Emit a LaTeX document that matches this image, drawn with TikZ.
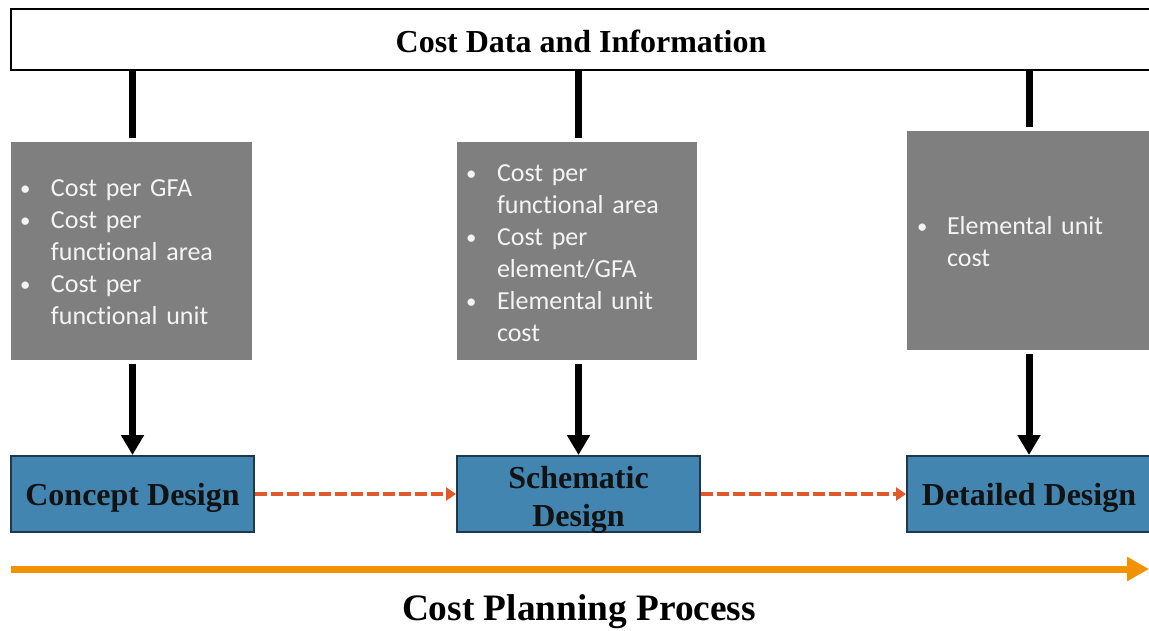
\documentclass[tikz,border=0pt]{standalone}
\usepackage{fontspec}
\usepackage{graphicx}
\setmainfont{Liberation Serif}
\newfontfamily\bodyfont{Carlito}[Ligatures=NoCommon]
\usetikzlibrary{arrows.meta,shadows,backgrounds}
\definecolor{boxgray}{HTML}{7F7F7F}
\definecolor{stageblue}{HTML}{4285B0}
\definecolor{stageedge}{HTML}{1C3A4C}
\definecolor{flowred}{HTML}{E2572C}
\definecolor{timeorange}{HTML}{F39200}
\definecolor{bullettext}{HTML}{F4F4F4}
% lower the text inside a box without changing the box's reported size
\newcommand\lowered[2]{\raisebox{-#1}[\height][\depth]{#2}}
\newcommand\bul{\raisebox{1pt}{\scalebox{0.8}{\textbullet}}}
\tikzset{
  infobox/.style={rectangle, fill=boxgray, draw=white, line width=3pt,
    drop shadow={shadow xshift=0.8pt, shadow yshift=-1pt, opacity=0.4, fill=black},
    inner xsep=8.25pt, inner ysep=0pt, align=left, text=bullettext,
    font=\bodyfont\fontsize{19.5}{24}\selectfont},
  stagebox/.style={rectangle, fill=stageblue, draw=stageedge, line width=1.5pt,
    minimum height=57pt, inner xsep=2pt, inner ysep=0pt, align=center, text=black!93,
    font=\bfseries\fontsize{24}{28.5}\selectfont},
  headbox/.style={rectangle, draw=black, line width=1.5pt, fill=white,
    minimum width=855pt, minimum height=45.75pt,
    font=\bfseries\fontsize{24}{28}\selectfont},
  feed/.style={draw=black, line width=5.25pt},
  feedarrow/.style={feed, -{Triangle[width=16.5pt,length=15pt]}},
  stageflow/.style={draw=flowred, line width=3pt, dash pattern=on 9pt off 3pt,
    -{Triangle[width=9.75pt,length=7.5pt]}},
  timeline/.style={draw=timeorange, line width=5.25pt,
    -{Triangle[width=17.25pt,length=16.5pt]}},
}
\begin{document}
\begin{tikzpicture}[x=0.75pt,y=-0.75pt]
\path[use as bounding box, clip] (0,0) rectangle (1149,631);

% data source across the top
\node[headbox] (data) at (581,39.5) {\lowered{1.5pt}{Cost Data and Information}};

% cost information available at each stage
\node[infobox, minimum width=183.75pt, minimum height=166.5pt, text width=167.25pt] (g1) at (131.5,251)
{\lowered{2.25pt}{\begin{tabular}{@{}p{23.25pt}@{}l@{}}
\bul & Cost per GFA\\
\bul & Cost per\\
 & functional area\\
\bul & Cost per\\
 & functional unit
\end{tabular}}};

\node[infobox, minimum width=183pt, minimum height=166.5pt, text width=166.5pt] (g2) at (577,251)
{\lowered{3pt}{\begin{tabular}{@{}p{23.25pt}@{}l@{}}
\bul & Cost per\\
 & functional area\\
\bul & Cost per\\
 & element/GFA\\
\bul & Elemental unit\\
 & cost
\end{tabular}}};

\node[infobox, minimum width=186pt, minimum height=167.25pt, text width=168pt, inner xsep=9pt] (g3) at (1029,240.5)
{\lowered{3pt}{\begin{tabular}{@{}p{22.5pt}@{}l@{}}
\bul & Elemental unit\\
 & cost
\end{tabular}}};

% design stages
\node[stagebox, minimum width=182.25pt] (b1) at (132.5,494) {\lowered{3pt}{Concept Design}};
\node[stagebox, minimum width=182.25pt] (b2) at (578.5,494)
  {\lowered{4.25pt}{\begin{tabular}{@{}c@{}}Schematic\\Design\end{tabular}}};
\node[stagebox, minimum width=183pt] (b3) at (1029,494) {\lowered{3pt}{Detailed Design}};

% feeds from the data source
\begin{pgfonlayer}{background}
\draw[feed] (data.south -| b1.north) -- (g1.north -| b1.north);
\draw[feed] (data.south -| b2.north) -- (g2.north -| b2.north);
\draw[feed] (data.south -| b3.north) -- (g3.north -| b3.north);
\end{pgfonlayer}
\draw[feedarrow] (g1.south -| b1.north) -- (b1.north);
\draw[feedarrow] (g2.south -| b2.north) -- (b2.north);
\draw[feedarrow] (g3.south -| b3.north) -- (b3.north);

% stage progression
\draw[stageflow] (b1.east) -- (b2.west);
\draw[stageflow] (b2.east) -- (b3.west);

% process timeline
\coordinate (tstart) at (11,569);
\coordinate (tend) at (1149,569);
\draw[timeline] (tstart) -- (tend);
\node[font=\bfseries\fontsize{28}{32}\selectfont] (process) at (579,612) {Cost Planning Process};
\end{tikzpicture}
\end{document}
